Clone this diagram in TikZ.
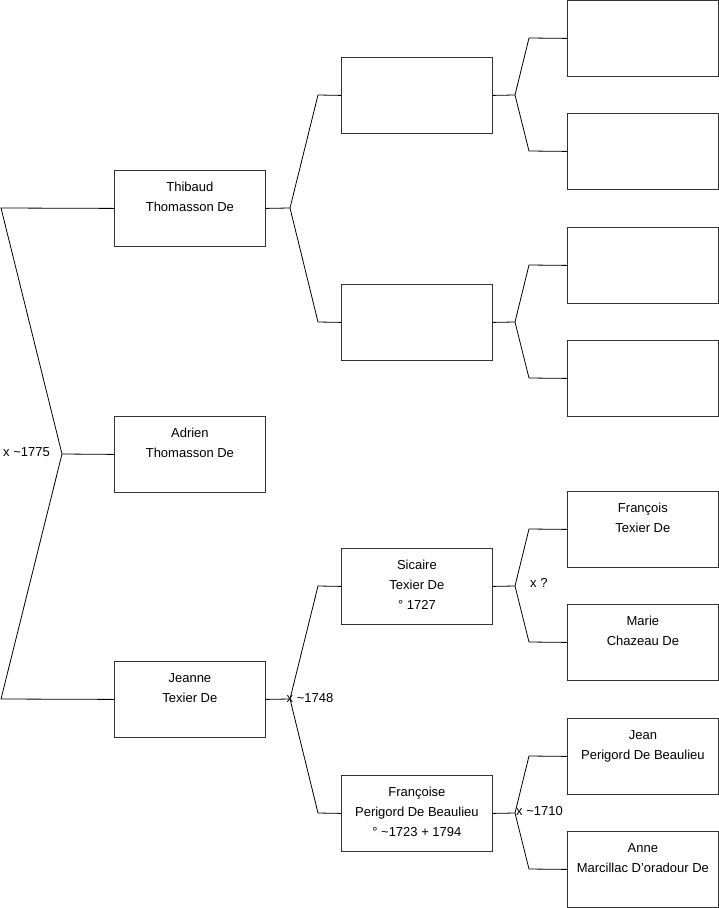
\documentclass[tikz,border=0pt]{standalone}
\usepackage{fontspec}
\setmainfont{Liberation Sans}
\begin{document}
\begin{tikzpicture}[x=1pt,y=-1pt,
  personbox/.style={draw=black!80, line width=0.8pt, minimum width=151pt, minimum height=76pt, inner sep=0pt, anchor=north west, fill=white},
  ptext/.style={anchor=north, inner sep=0pt, align=center, font=\fontsize{13}{20}\selectfont},
  conn/.style={draw=black, line width=0.8pt},
  xlab/.style={inner sep=0pt, font=\fontsize{13}{15}\selectfont}]
\useasboundingbox (0,0) rectangle (719,908);
\newcommand{\fl}{\rule{0pt}{10.5pt}}
% level 1
\node[personbox] (thib) at (114,170) {};
\node[ptext] (thibt) at ([yshift=-10.5]thib.north) {\fl Thibaud\\Thomasson De};
\node[personbox] (adri) at (114,416) {};
\node[ptext] (adrit) at ([yshift=-10.5]adri.north) {\fl Adrien\\Thomasson De};
\node[personbox] (jean) at (114,661) {};
\node[ptext] (jeant) at ([yshift=-10.5]jean.north) {\fl Jeanne\\Texier De};
% level 2
\node[personbox] (b1) at (341,57) {};
\node[personbox] (b2) at (341,284) {};
\node[personbox] (sica) at (341,548) {};
\node[ptext] (sicat) at ([yshift=-10.5]sica.north) {\fl Sicaire\\Texier De\\° 1727};
\node[personbox] (fran) at (341,775) {};
\node[ptext] (frant) at ([yshift=-10.5]fran.north) {\fl Françoise\\Perigord De Beaulieu\\° \textasciitilde1723 + 1794};
% level 3
\node[personbox] (c1) at (567,0) {};
\node[personbox] (c2) at (567,113) {};
\node[personbox] (c3) at (567,227) {};
\node[personbox] (c4) at (567,340) {};
\node[personbox] (fcoi) at (567,491) {};
\node[ptext] (fcoit) at ([yshift=-10.5]fcoi.north) {\fl François\\Texier De};
\node[personbox] (mari) at (567,604) {};
\node[ptext] (marit) at ([yshift=-10.5]mari.north) {\fl Marie\\Chazeau De};
\node[personbox] (jn) at (567,718) {};
\node[ptext] (jnt) at ([yshift=-10.5]jn.north) {\fl Jean\\Perigord De Beaulieu};
\node[personbox] (anne) at (567,831) {};
\node[ptext] (annet) at ([yshift=-10.5]anne.north) {\fl Anne\\Marcillac D'oradour De};
% root fork
\coordinate (r0) at (62,454);
\coordinate (r0a) at (1,208);
\coordinate (r0b) at (1,699);
\draw[conn] (thib.west) -- (r0a) -- (r0) -- (r0b) -- (jean.west);
\draw[conn] (r0) -- (adri.west);
\node[xlab, anchor=east] (l1775) at (50,452) {x \textasciitilde1775};
% Thibaud fork
\coordinate (f1) at (290,208);
\draw[conn] (thib.east) -- (f1);
\draw[conn] (b1.west) -- (318,95) -- (f1) -- (318,322) -- (b2.west);
% Jeanne fork
\coordinate (f2) at (290,699);
\draw[conn] (jean.east) -- (f2);
\draw[conn] (sica.west) -- (318,586) -- (f2) -- (318,813) -- (fran.west);
\node[xlab, anchor=west] (l1748) at (286.5,698) {x \textasciitilde1748};
% level 2 forks
\coordinate (g1) at (515,95);
\draw[conn] (b1.east) -- (g1);
\draw[conn] (c1.west) -- (529,38) -- (g1) -- (529,151) -- (c2.west);
\coordinate (g2) at (515,322);
\draw[conn] (b2.east) -- (g2);
\draw[conn] (c3.west) -- (529,265) -- (g2) -- (529,378) -- (c4.west);
\coordinate (g3) at (515,586);
\draw[conn] (sica.east) -- (g3);
\draw[conn] (fcoi.west) -- (529,529) -- (g3) -- (529,642) -- (mari.west);
\node[xlab, anchor=west] (lq) at (530,583) {x ?};
\coordinate (g4) at (515,813);
\draw[conn] (fran.east) -- (g4);
\draw[conn] (jn.west) -- (529,756) -- (g4) -- (529,869) -- (anne.west);
\node[xlab, anchor=west] (l1710) at (516,811) {x \textasciitilde1710};
\end{tikzpicture}
\end{document}
